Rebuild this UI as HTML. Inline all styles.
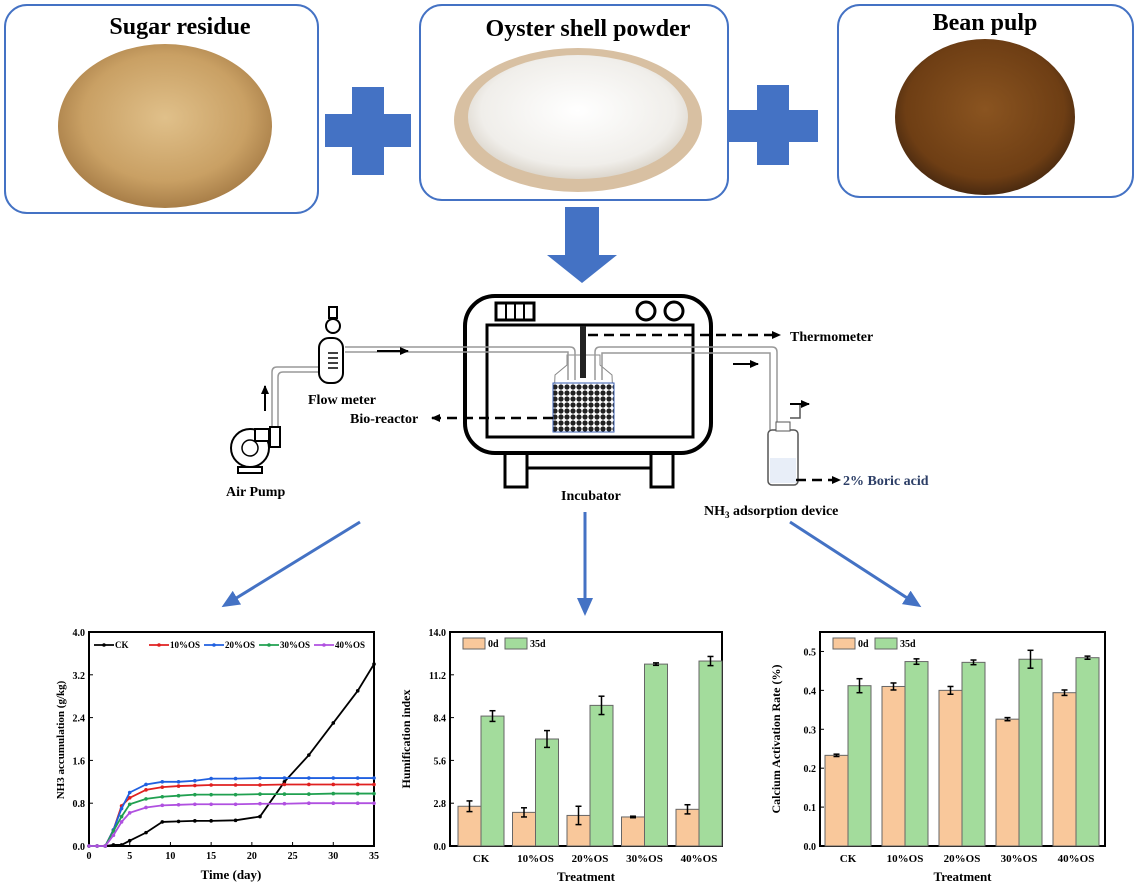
<!DOCTYPE html>
<html><head><meta charset="utf-8"><style>
html,body{margin:0;padding:0;background:#fff;width:1139px;height:886px;overflow:hidden}
svg text{font-family:"Liberation Serif",serif;font-weight:bold}
</style></head><body>
<svg id="s" width="1139" height="886" viewBox="0 0 1139 886" xmlns="http://www.w3.org/2000/svg">
<defs>
<radialGradient id="sug" cx="50%" cy="45%" r="55%"><stop offset="0" stop-color="#e0c08a"/><stop offset="0.7" stop-color="#c9a064"/><stop offset="1" stop-color="#a87e48"/></radialGradient>
<radialGradient id="bean" cx="50%" cy="45%" r="55%"><stop offset="0" stop-color="#8a5420"/><stop offset="0.8" stop-color="#6e3e14"/><stop offset="1" stop-color="#4a2a10"/></radialGradient>
<radialGradient id="oys" cx="50%" cy="45%" r="55%"><stop offset="0" stop-color="#ffffff"/><stop offset="0.8" stop-color="#f0eeea"/><stop offset="1" stop-color="#dcd6cc"/></radialGradient>
<pattern id="chk" width="6" height="6" patternUnits="userSpaceOnUse"><rect width="6" height="6" fill="#fff"/><circle cx="3" cy="3" r="2.6" fill="#222"/></pattern>
<marker id="ah" markerWidth="9" markerHeight="8" refX="8" refY="4" orient="auto" markerUnits="userSpaceOnUse"><path d="M0,0 L9,4 L0,8z" fill="#000"/></marker>
<marker id="bh" markerWidth="18" markerHeight="16" refX="14" refY="8" orient="auto" markerUnits="userSpaceOnUse"><path d="M0,0 L18,8 L0,16z" fill="#4472c4"/></marker>
</defs>

<rect x="5" y="5" width="313" height="208" rx="22" fill="#fff" stroke="#4472c4" stroke-width="2"/>
<text x="180" y="34" font-size="24" text-anchor="middle">Sugar residue</text>
<ellipse cx="165" cy="126" rx="107" ry="82" fill="url(#sug)"/>
<rect x="420" y="5" width="308" height="195" rx="22" fill="#fff" stroke="#4472c4" stroke-width="2"/>
<text x="588" y="36" font-size="24" text-anchor="middle">Oyster shell powder</text>
<ellipse cx="578" cy="120" rx="124" ry="72" fill="#d8c0a2"/>
<ellipse cx="578" cy="117" rx="110" ry="62" fill="url(#oys)"/>
<rect x="838" y="5" width="295" height="192" rx="22" fill="#fff" stroke="#4472c4" stroke-width="2"/>
<text x="985" y="30" font-size="24" text-anchor="middle">Bean pulp</text>
<ellipse cx="985" cy="117" rx="90" ry="78" fill="url(#bean)"/>

<rect x="352" y="87" width="32" height="88" fill="#4472c4"/><rect x="325" y="114" width="86" height="33" fill="#4472c4"/>
<rect x="757" y="85" width="32" height="80" fill="#4472c4"/><rect x="728" y="110" width="90" height="32" fill="#4472c4"/>
<rect x="565" y="207" width="34" height="50" fill="#4472c4"/><path d="M547,255 L617,255 L582,283z" fill="#4472c4"/>

<g fill="none" stroke="#000" stroke-width="4">
<rect x="465" y="296" width="246" height="157" rx="30"/>
<rect x="487" y="325" width="206" height="112" stroke-width="3"/>
<rect x="505" y="453" width="22" height="34" stroke-width="3"/><rect x="651" y="453" width="22" height="34" stroke-width="3"/>
<line x1="527" y1="468" x2="651" y2="468" stroke-width="3"/>
<rect x="496" y="303" width="38" height="17" stroke-width="3"/>
<circle cx="646" cy="311" r="9" stroke-width="3"/><circle cx="674" cy="311" r="9" stroke-width="3"/>
</g>
<g stroke="#000" stroke-width="2"><line x1="506" y1="304" x2="506" y2="319"/><line x1="515" y1="304" x2="515" y2="319"/><line x1="524" y1="304" x2="524" y2="319"/></g>
<path d="M567,355 L567,365 L555,375 L553,425 Q553,432 560,432 L607,432 Q614,432 614,425 L612,375 L600,365 L600,355z" fill="#fff" stroke="#888" stroke-width="1"/>
<rect x="553" y="383" width="61" height="49" fill="url(#chk)" stroke="#3a5fb0" stroke-width="1"/>
<rect x="580" y="326" width="6" height="52" fill="#222"/>
<g fill="none" stroke="#999" stroke-width="1.5">
<path d="M278,428 L278,377 Q278,372 283,372 L320,372"/><path d="M272,428 L272,372 Q272,367 277,367 L320,367"/>
<path d="M345,347 L570,347 Q575,347 575,352 L575,380"/><path d="M345,352 L568,352 L568,380"/>
<path d="M595,380 L595,352 Q595,347 600,347 L772,347 Q777,347 777,352 L777,430"/><path d="M602,380 L602,353 L770,353 L770,430"/>
</g>
<g fill="#fff" stroke="#000" stroke-width="2">
<rect x="319" y="338" width="24" height="45" rx="10"/><circle cx="333" cy="326" r="7"/><rect x="329" y="307" width="8" height="11"/>
<circle cx="250" cy="448" r="19"/><rect x="255" y="429" width="14" height="12"/><rect x="270" y="427" width="10" height="20"/>
<circle cx="250" cy="448" r="8" stroke-width="1.5"/><rect x="238" y="467" width="24" height="6"/>
</g>
<g stroke="#000" stroke-width="1.5"><line x1="328" y1="353" x2="338" y2="353"/><line x1="328" y1="358" x2="338" y2="358"/><line x1="328" y1="363" x2="338" y2="363"/><line x1="328" y1="368" x2="338" y2="368"/></g>
<rect x="768" y="430" width="30" height="55" rx="4" fill="#fff" stroke="#555" stroke-width="1.5"/>
<rect x="770" y="458" width="26" height="25" fill="#e8eef8"/>
<rect x="776" y="422" width="14" height="9" fill="#fff" stroke="#555"/>
<path d="M790,418 L800,418 L800,404 L808,404" fill="none" stroke="#555" stroke-width="1.5"/>
<g stroke="#000" stroke-width="2" marker-end="url(#ah)">
<line x1="377" y1="351" x2="408" y2="351"/><line x1="733" y1="364" x2="758" y2="364"/>
<line x1="265" y1="411" x2="265" y2="386"/><line x1="790" y1="404" x2="809" y2="404"/>
</g>
<g stroke="#000" stroke-width="2.5" stroke-dasharray="10,6" fill="none">
<line x1="588" y1="335" x2="780" y2="335" marker-end="url(#ah)"/>
<line x1="553" y1="418" x2="432" y2="418" marker-end="url(#ah)"/>
<line x1="796" y1="480" x2="840" y2="480" marker-end="url(#ah)"/>
</g>
<text x="790" y="341" font-size="14">Thermometer</text>
<text x="350" y="423" font-size="14">Bio-reactor</text>
<text x="308" y="404" font-size="14">Flow meter</text>
<text x="226" y="496" font-size="14">Air Pump</text>
<text x="561" y="500" font-size="14">Incubator</text>
<text x="704" y="515" font-size="14">NH<tspan font-size="9" dy="3">3</tspan><tspan dy="-3"> adsorption device</tspan></text>
<text x="843" y="485" font-size="14" fill="#2c3e66">2% Boric acid</text>
<g stroke="#4472c4" stroke-width="3" marker-end="url(#bh)">
<line x1="360" y1="522" x2="225" y2="605"/><line x1="585" y1="512" x2="585" y2="612"/><line x1="790" y1="522" x2="918" y2="605"/>
</g>
<g id="charts"></g>
</svg>
<script>
var NS="http://www.w3.org/2000/svg",G=document.getElementById("charts");
function el(t,a,txt){var e=document.createElementNS(NS,t);for(var k in a)e.setAttribute(k,a[k]);if(txt!==undefined)e.textContent=txt;G.appendChild(e);return e;}
var L=89,R=374,T=632,B=846;
function X(v){return L+v*(R-L)/35}function Y(v){return B-v*(B-T)/4}
el("rect",{x:L,y:T,width:R-L,height:B-T,fill:"none",stroke:"#000","stroke-width":2});
[0,0.8,1.6,2.4,3.2,4.0].forEach(function(v){el("text",{x:L-4,y:Y(v)+4,"font-size":10,"text-anchor":"end"},v.toFixed(1));el("line",{x1:L,x2:L+4,y1:Y(v),y2:Y(v),stroke:"#000"})});
[0,5,10,15,20,25,30,35].forEach(function(v){el("text",{x:X(v),y:B+13,"font-size":10,"text-anchor":"middle"},v);el("line",{x1:X(v),x2:X(v),y1:B,y2:B-4,stroke:"#000"})});
el("text",{x:231,y:879,"font-size":13,"text-anchor":"middle"},"Time (day)");
el("text",{x:0,y:0,"font-size":11,"text-anchor":"middle",transform:"translate(64,740) rotate(-90)"},"NH3 accumulation  (g/kg)");
var d=[0,1,2,3,4,5,7,9,11,13,15,18,21,24,27,30,33,35];
var S=[["#000",[0,0,0,.02,.02,.1,.25,.45,.46,.47,.47,.48,.55,1.2,1.7,2.3,2.9,3.4]],
["#e02020",[0,0,0,.3,.75,.9,1.05,1.1,1.12,1.13,1.14,1.14,1.14,1.15,1.15,1.15,1.15,1.15]],
["#2060e0",[0,0,0,.3,.7,1.0,1.15,1.2,1.2,1.22,1.26,1.26,1.27,1.27,1.27,1.27,1.27,1.27]],
["#20a050",[0,0,0,.28,.55,.78,.88,.92,.94,.96,.96,.96,.97,.97,.97,.98,.98,.98]],
["#b050e0",[0,0,0,.2,.45,.62,.72,.76,.77,.78,.78,.78,.79,.79,.8,.8,.8,.8]]];
S.forEach(function(s){var p=d.map(function(x,i){return X(x)+","+Y(s[1][i])}).join(" ");el("polyline",{points:p,fill:"none",stroke:s[0],"stroke-width":1.8});d.forEach(function(x,i){el("circle",{cx:X(x),cy:Y(s[1][i]),r:1.8,fill:s[0]})})});
var lg=["CK","10%OS","20%OS","30%OS","40%OS"];
lg.forEach(function(n,i){var x=94+i*55;el("line",{x1:x,x2:x+20,y1:645,y2:645,stroke:S[i][0],"stroke-width":1.8});el("circle",{cx:x+10,cy:645,r:1.8,fill:S[i][0]});el("text",{x:x+21,y:648,"font-size":9},n)});
function bars(L,R,T,B,max,ticks,fmt,vals,ylab,w,gs,st){
 function Y(v){return B-v*(B-T)/max}
 el("rect",{x:L,y:T,width:R-L,height:B-T,fill:"none",stroke:"#000","stroke-width":2});
 ticks.forEach(function(v){el("text",{x:L-4,y:Y(v)+4,"font-size":10,"text-anchor":"end"},fmt(v));el("line",{x1:L,x2:L+4,y1:Y(v),y2:Y(v),stroke:"#000"})});
 vals.forEach(function(g,i){var x=st+i*gs;
  [[g[0],g[1],"#f9c89b"],[g[2],g[3],"#a3dc9c"]].forEach(function(b,j){var bx=x+j*w;el("rect",{x:bx,y:Y(b[0]),width:w,height:B-Y(b[0]),fill:b[2],stroke:"#666","stroke-width":1});
   el("line",{x1:bx+w/2,x2:bx+w/2,y1:Y(b[0]+b[1]),y2:Y(b[0]-b[1]),stroke:"#000","stroke-width":1.5});
   el("line",{x1:bx+w/2-3,x2:bx+w/2+3,y1:Y(b[0]+b[1]),y2:Y(b[0]+b[1]),stroke:"#000","stroke-width":1.5});
   el("line",{x1:bx+w/2-3,x2:bx+w/2+3,y1:Y(b[0]-b[1]),y2:Y(b[0]-b[1]),stroke:"#000","stroke-width":1.5});});
  el("text",{x:x+w,y:B+16,"font-size":11,"text-anchor":"middle"},lg[i]);});
 el("text",{x:(L+R)/2,y:881,"font-size":13,"text-anchor":"middle"},"Treatment");
 el("text",{x:0,y:0,"font-size":12,"text-anchor":"middle",transform:"translate("+(L-40)+","+((T+B)/2)+") rotate(-90)"},ylab);
 el("rect",{x:L+13,y:638,width:22,height:11,fill:"#f9c89b",stroke:"#666"});el("text",{x:L+38,y:647,"font-size":10},"0d");
 el("rect",{x:L+55,y:638,width:22,height:11,fill:"#a3dc9c",stroke:"#666"});el("text",{x:L+80,y:647,"font-size":10},"35d");
}
bars(450,722,632,846,14,[0,2.8,5.6,8.4,11.2,14],function(v){return v.toFixed(1)},
 [[2.6,.35,8.5,.35],[2.2,.3,7.0,.55],[2.0,.6,9.2,.6],[1.9,.05,11.9,.08],[2.4,.3,12.1,.3]],"Humification index",23,54.5,458);
bars(820,1105,632,846,0.55,[0,.1,.2,.3,.4,.5],function(v){return v.toFixed(1)},
 [[.233,.003,.412,.018],[.41,.009,.474,.007],[.40,.01,.472,.006],[.326,.004,.48,.023],[.394,.007,.484,.004]],"Calcium Activation Rate (%)",23,57,825);
</script>
</body></html>
